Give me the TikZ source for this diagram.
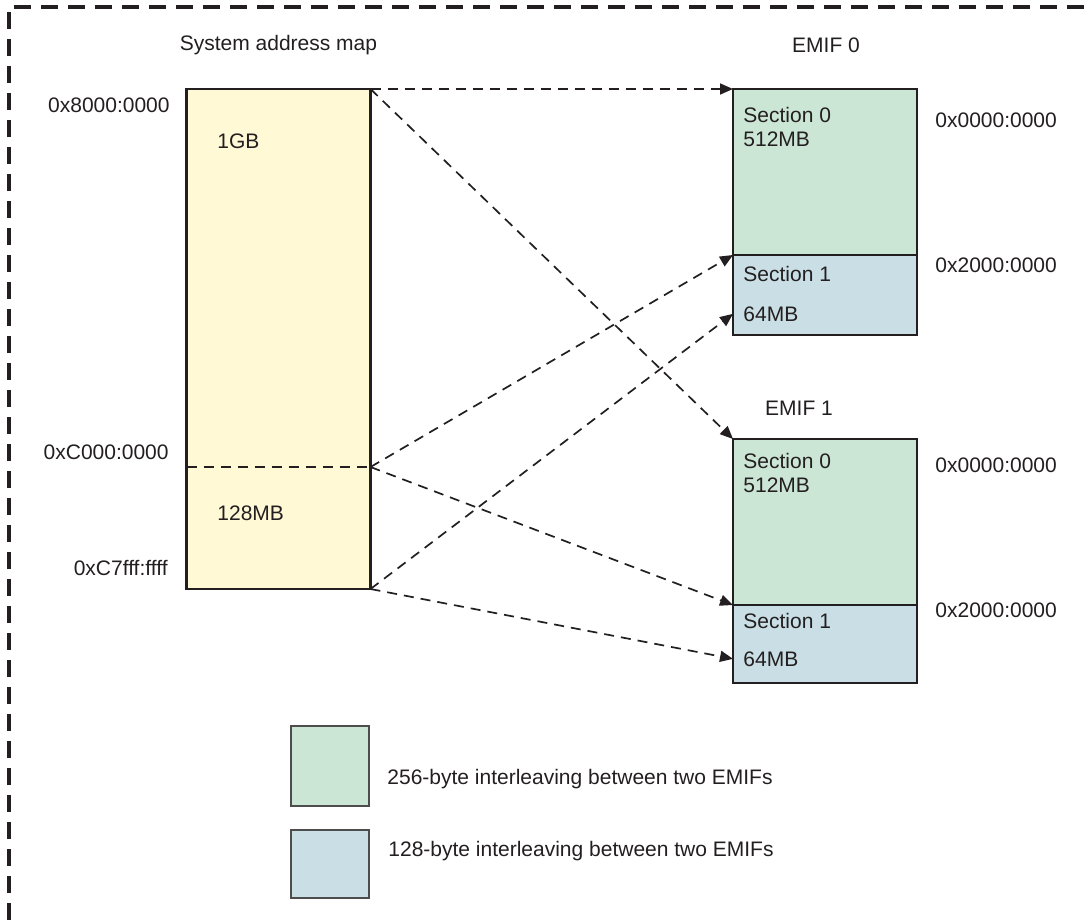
\documentclass[tikz,border=0pt]{standalone}
\usepackage{fontspec}
\setmainfont{Liberation Sans}
\usetikzlibrary{positioning,arrows.meta}

\begin{document}
\begin{tikzpicture}[
  x=0.5pt, y=-0.5pt,
  font=\fontsize{10.5}{12}\selectfont,
  >={Triangle[length=6.5pt,width=5.5pt]},
  blk/.style={draw=ink, line width=1.2pt, fill=#1, inner sep=0pt, outer sep=0pt,
              minimum width=92pt},
  keybox/.style={draw=ink!80, line width=0.8pt, fill=#1, inner sep=0pt, outer sep=0pt,
              minimum width=39pt},
  lbl/.style={text=ink, inner sep=0pt, align=left},
  maparrow/.style={->, ink, line width=0.85pt, dash pattern=on 5pt off 3.5pt},
]
\definecolor{ink}{HTML}{231F20}
\definecolor{sysyel}{HTML}{FFF9D6}
\definecolor{secgrn}{HTML}{CCE6D5}
\definecolor{secblu}{HTML}{C9DFE5}

\useasboundingbox (0,0) rectangle (1090,920);

% ---- outer frame ----
\draw[ink, line width=1.7pt, dash pattern=on 8.5pt off 5pt] (9,920) -- (9,7) -- (1090,7);

% ---- system address map ----
\node[lbl] (systitle) at (278.5,45) {System address map};
\node[blk=sysyel, minimum height=250pt] (sysmap) at (278.5,339) {};
\coordinate (split) at (278.5,467);
\draw[ink, line width=0.85pt, dash pattern=on 5pt off 3.5pt] (sysmap.west |- split) -- (sysmap.east |- split);
\node[lbl, anchor=west] (sys1g) at (217,141) {1GB};
\node[lbl, anchor=west] (sys128) at (217,513) {128MB};
\node[lbl, anchor=east] (a8000) at (170,105) {0x8000:0000};
\node[lbl, anchor=east] (ac000) at (169,452) {0xC000:0000};
\node[lbl, anchor=east] (ac7ff) at (168,568) {0xC7fff:ffff};

% ---- EMIF 0 ----
\node[lbl] (emif0) at (826,45) {EMIF 0};
\node[blk=secgrn, minimum height=83pt] (e0s0) at (825,172) {};
\node[blk=secblu, minimum height=40pt, below=0pt of e0s0] (e0s1) {};
\node[lbl, below right=9pt and 5pt of e0s0.north west] (e0t0) {Section 0\\512MB};
\node[lbl, below right=5.5pt and 5pt of e0s1.north west] (e0t1) {Section 1};
\node[lbl, below right=25.5pt and 5pt of e0s1.north west] (e0mb) {64MB};
\node[lbl, anchor=west] (e0a0) at (935,120) {0x0000:0000};
\node[lbl, anchor=west] (e0a2) at (935,265) {0x2000:0000};

% ---- EMIF 1 ----
\node[lbl] (emif1) at (799,408) {EMIF 1};
\node[blk=secgrn, minimum height=83pt] (e1s0) at (825,522) {};
\node[blk=secblu, minimum height=39pt, below=0pt of e1s0] (e1s1) {};
\node[lbl, below right=7pt and 5pt of e1s0.north west] (e1t0) {Section 0\\512MB};
\node[lbl, below right=4pt and 5pt of e1s1.north west] (e1t1) {Section 1};
\node[lbl, below right=23pt and 5pt of e1s1.north west] (e1mb) {64MB};
\node[lbl, anchor=west] (e1a0) at (935,465) {0x0000:0000};
\node[lbl, anchor=west] (e1a2) at (935,610) {0x2000:0000};

% ---- mappings ----
\draw[maparrow] (sysmap.north east) -- (e0s0.north west);
\draw[maparrow] (sysmap.north east) -- (e1s0.north west);
\draw[maparrow] (sysmap.east |- split) -- (e0s1.north west);
\draw[maparrow] (sysmap.east |- split) -- (e1s1.north west);
\draw[maparrow] (sysmap.south east) -- (e0s1.west |- e0mb.west);
\draw[maparrow] (sysmap.south east) -- (e1s1.west |- e1mb.west);

% ---- legend ----
\node[keybox=secgrn, minimum height=40pt] (kgrn) at (330,766) {};
\node[keybox=secblu, minimum height=34pt] (kblu) at (330,864) {};
\node[lbl, anchor=west] (tgrn) at (387,779) {256-byte interleaving between two EMIFs};
\node[lbl, anchor=west] (tblu) at (388,851) {128-byte interleaving between two EMIFs};
\end{tikzpicture}
\end{document}
